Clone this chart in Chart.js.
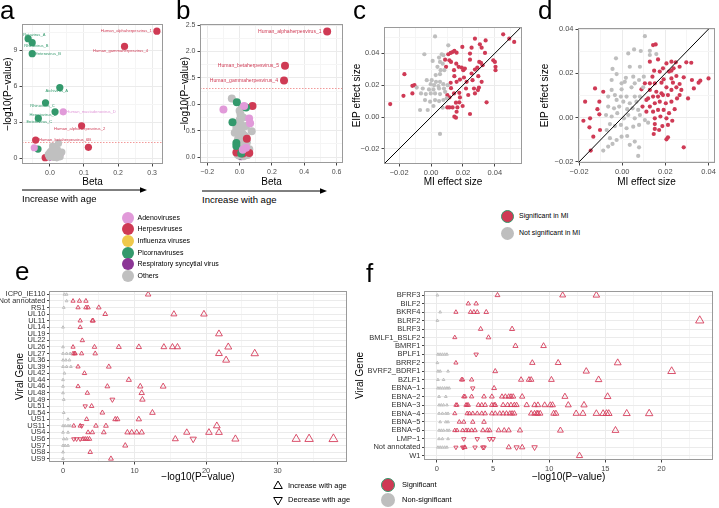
<!DOCTYPE html>
<html>
<head>
<meta charset="utf-8">
<title>Virus age association panels</title>
<script src="https://cdn.jsdelivr.net/npm/chart.js@4.4.1/dist/chart.umd.min.js"></script>
<style>
  body { margin: 0; background: #fff; font-family: "Liberation Sans", Arial, Helvetica, sans-serif; }
  #wrap { position: relative; width: 719px; height: 508px; overflow: hidden; }
  canvas { position: absolute; }
  svg { position: absolute; left: 0; top: 0; }
  .tag { position: absolute; font-size: 26px; line-height: 26px; color: #000; }
  .txt { position: absolute; white-space: nowrap; color: #000; }
  .dot { position: absolute; border-radius: 50%; box-sizing: border-box; }
</style>
</head>
<body>
<div id="wrap">
  <svg width="719" height="508">
    <line x1="22" y1="190" x2="143" y2="190" stroke="#000" stroke-width="1"/>
    <polygon points="147,190 140,187.3 140,192.7" fill="#000"/>
    <line x1="202" y1="191" x2="323" y2="191" stroke="#000" stroke-width="1"/>
    <polygon points="327,191 320,188.3 320,193.7" fill="#000"/>
    <polygon points="278,481 282.3,488.5 273.7,488.5" fill="none" stroke="#000" stroke-width="1"/>
    <polygon points="278,505 273.7,497.5 282.3,497.5" fill="none" stroke="#000" stroke-width="1"/>
  </svg>

  <canvas id="chartA" width="172" height="190" style="left:0;top:0"></canvas>
  <canvas id="chartB" width="175" height="190" style="left:177px;top:0"></canvas>
  <canvas id="chartC" width="181" height="190" style="left:349px;top:0"></canvas>
  <canvas id="chartD" width="182" height="190" style="left:537px;top:0"></canvas>
  <canvas id="chartE" width="355" height="201" style="left:0;top:285px"></canvas>
  <canvas id="chartF" width="369" height="200" style="left:350px;top:285px"></canvas>

  <div class="tag" style="left:0;top:-3px">a</div>
  <div class="tag" style="left:176px;top:-3px">b</div>
  <div class="tag" style="left:353px;top:-3px">c</div>
  <div class="tag" style="left:538px;top:-3px">d</div>
  <div class="tag" style="left:15px;top:258px">e</div>
  <div class="tag" style="left:366px;top:260px">f</div>

  <div class="txt" style="left:22px;top:193px;font-size:9.5px;line-height:12px">Increase with age</div>
  <div class="txt" style="left:202px;top:194px;font-size:9.5px;line-height:12px">Increase with age</div>
  <div class="txt" style="left:288px;top:481px;font-size:7.5px;line-height:10px">Increase with age</div>
  <div class="txt" style="left:288px;top:495px;font-size:7.5px;line-height:10px">Decrease with age</div>
  <div id="legends"></div>
</div>

<script>
const FONT = '"Liberation Sans", Arial, Helvetica, sans-serif';

// ---- panel a: Beta vs -log10(P), coloured by virus family ----
const aAdeno = [[-0.046, 0.86], [0.039, 3.86], [0.032, 0.40], [0.020, 0.15]];
const aHerpes = [[0.314, 10.6], [0.219, 9.33], [0.093, 2.69], [-0.042, 1.50], [0.113, 0.89], [-0.014, 0.03], [0.010, 0.10]];
const aFlu = [[0.015, 0.22]];
const aPicorna = [[-0.064, 9.97], [-0.052, 9.64], [-0.052, 8.72], [0.029, 5.89], [-0.013, 4.61], [0.015, 3.86], [-0.034, 3.31], [-0.035, 0.75], [0.005, 0.30]];
const aRsv = [[0.000, 0.08]];
const aOthers = [[-0.005, 0.30], [0.000, 0.50], [0.005, 0.20], [0.010, 0.80], [0.015, 0.60], [0.020, 0.40], [0.025, 1.22], [0.030, 0.10],
  [0.012, 0.05], [0.018, 0.92], [0.008, 1.00], [0.022, 0.70], [-0.002, 0.10], [0.028, 0.30], [0.015, 0.15], [0.005, 0.65], [0.035, 0.50], [0.020, 0.02]];
const aLabelNames = ['Human_alphaherpesvirus_1', 'Human_gammaherpesvirus_4', 'Rotavirus_A', 'Rhinovirus_B', 'Enterovirus_B', 'Aichivirus_A',
  'Rhinovirus_C', 'Hepatovirus_A', 'Human_mastadenovirus_D', 'Enterovirus_C', 'Human_alphaherpesvirus_2', 'Human_betaherpesvirus_6B'];
const aLabelPoints = [aHerpes[0], aHerpes[1], aPicorna[0], aPicorna[1], aPicorna[2], aPicorna[3], aPicorna[4], aPicorna[5], aAdeno[1], aPicorna[6], aHerpes[2], aHerpes[3]];
const aXTicks = [0.0, 0.1, 0.2, 0.3];
const aYTicks = [0, 3, 6, 9];

// ---- panel b ----
const bAdeno = [[-0.100, 0.90], [0.028, 0.97], [0.059, 0.73], [0.065, 0.64], [0.040, 0.18], [0.020, 0.14]];
const bHerpes = [[0.542, 2.38], [0.281, 1.73], [0.275, 1.45], [0.080, 0.97], [0.045, 0.35], [-0.020, 0.09], [0.020, 0.07], [0.060, 0.08]];
const bFlu = [[0.040, 0.37], [0.020, 0.12], [0.030, 0.33]];
const bPicorna = [[-0.017, 1.04], [0.040, 0.94], [-0.044, 0.66], [-0.020, 0.27], [-0.020, 0.21], [0.010, 0.07]];
const bRsv = [[0.010, 0.02]];
const bOthers = [[-0.048, 1.11], [-0.006, 0.67], [0.075, 0.49], [0.006, 0.81], [0.020, 0.58], [0.000, 0.50], [0.030, 0.41], [-0.010, 0.34],
  [0.010, 0.28], [0.035, 0.22], [0.000, 0.15], [0.016, 0.06], [-0.004, 0.03], [0.050, 0.04], [0.024, 0.12], [-0.030, 0.46], [0.040, 0.59],
  [0.014, 0.95], [0.005, 0.40], [0.012, 0.20], [-0.015, 0.10], [0.028, 0.30], [0.008, 0.62], [0.045, 0.28], [-0.020, 0.55], [0.018, 0.45],
  [0.002, 0.72], [0.025, 0.02], [0.060, 0.15], [-0.008, 0.22], [0.015, 0.35], [0.032, 0.10], [0.000, 0.88], [0.022, 0.75], [0.038, 0.38], [-0.012, 0.05]];
const bLabelNames = ['Human_alphaherpesvirus_1', 'Human_betaherpesvirus_5', 'Human_gammaherpesvirus_4'];
const bLabelPoints = [bHerpes[0], bHerpes[1], bHerpes[2]];
const bXTicks = [-0.2, 0.0, 0.2, 0.4, 0.6];
const bYTicks = [0.0, 0.5, 1.0, 1.5, 2.0, 2.5];
const pThreshold = 1.3;

// ---- panel c: MI vs EIP effect size ----
const cSig = [[-0.0256, 0.0081], [-0.0167, 0.0269], [-0.0173, 0.0133], [-0.0117, 0.0196], [-0.0104, 0.0200], [-0.0117, 0.0148],
  [0.0108, 0.0394], [0.0123, 0.0402], [0.0135, 0.0408], [0.0146, 0.0415], [0.0160, 0.0404], [0.0115, 0.0356], [0.0125, 0.0346],
  [0.0158, 0.0335], [0.0144, 0.0294], [0.0173, 0.0315], [0.0192, 0.0310], [0.0202, 0.0294], [0.0212, 0.0304], [0.0196, 0.0440],
  [0.0244, 0.0398], [0.0275, 0.0492], [0.0254, 0.0435], [0.0306, 0.0456], [0.0342, 0.0481], [0.0317, 0.0435], [0.0338, 0.0402],
  [0.0244, 0.0360], [0.0302, 0.0346], [0.0313, 0.0340], [0.0290, 0.0310], [0.0323, 0.0325], [0.0275, 0.0298], [0.0254, 0.0273],
  [0.0296, 0.0256], [0.0260, 0.0231], [0.0317, 0.0221], [0.0269, 0.0179], [0.0300, 0.0185], [0.0294, 0.0169], [0.0275, 0.0148],
  [0.0219, 0.0179], [0.0206, 0.0248], [0.0181, 0.0235], [0.0160, 0.0221], [0.0123, 0.0215], [0.0125, 0.0181], [0.0102, 0.0138],
  [0.0115, 0.0123], [0.0144, 0.0148], [0.0177, 0.0152], [0.0177, 0.0092], [0.0156, 0.0090], [0.0198, 0.0069], [0.0165, 0.0060],
  [0.0102, 0.0060], [0.0115, 0.0060], [0.0135, 0.0060], [0.0160, 0.0033], [0.0146, 0.0002], [0.0156, -0.0004], [0.0244, 0.0019],
  [0.0348, 0.0092], [0.0390, 0.0356], [0.0400, 0.0346], [0.0404, 0.0315], [0.0404, 0.0294], [0.0452, 0.0519], [0.0490, 0.0492],
  [0.0521, 0.0471], [0.0088, 0.0360], [0.0094, 0.0315], [0.0146, 0.0256], [0.0223, 0.0221], [0.0233, 0.0138], [0.0181, 0.0123]];
const cNs = [[0.0025, 0.0506], [0.0108, 0.0450], [-0.0042, 0.0394], [0.0067, 0.0394], [0.0077, 0.0388], [0.0050, 0.0373],
  [0.0010, 0.0352], [0.0056, 0.0346], [0.0073, 0.0335], [0.0040, 0.0315], [0.0060, 0.0294], [0.0083, 0.0294], [0.0029, 0.0263],
  [0.0056, 0.0269], [-0.0027, 0.0231], [0.0004, 0.0231], [0.0031, 0.0221], [0.0056, 0.0221], [-0.0002, 0.0206], [0.0019, 0.0200],
  [0.0046, 0.0194], [0.0077, 0.0206], [-0.0090, 0.0185], [-0.0052, 0.0179], [-0.0013, 0.0173], [0.0015, 0.0173], [0.0050, 0.0179],
  [0.0081, 0.0179], [-0.0063, 0.0148], [-0.0033, 0.0144], [-0.0002, 0.0148], [0.0025, 0.0148], [0.0056, 0.0144], [0.0088, 0.0158],
  [-0.0038, 0.0106], [-0.0006, 0.0096], [0.0025, 0.0106], [0.0050, 0.0100], [0.0077, 0.0106], [-0.0069, 0.0044], [-0.0021, 0.0044],
  [0.0015, 0.0069], [0.0073, 0.0058], [0.0056, -0.0106], [0.0098, 0.0117], [0.0104, 0.0200]];
const cdTicks = [-0.02, 0.00, 0.02, 0.04];

// ---- panel d ----
const dSig = [[-0.0180, -0.0014], [-0.0172, 0.0072], [-0.0126, 0.0132], [-0.0149, -0.0003], [-0.0152, -0.0044], [-0.0134, -0.0086],
  [-0.0146, -0.0149], [-0.0115, 0.0038], [-0.0106, 0.0015], [-0.0103, -0.0056], [-0.0088, 0.0117], [-0.0106, 0.0072],
  [0.0143, 0.0328], [0.0155, 0.0331], [0.0128, 0.0253], [0.0166, 0.0263], [0.0205, 0.0245], [0.0228, 0.0253], [0.0248, 0.0250],
  [0.0297, 0.0250], [0.0320, 0.0248], [0.0266, 0.0230], [0.0238, 0.0223], [0.0189, 0.0223], [0.0148, 0.0212], [0.0174, 0.0208],
  [0.0217, 0.0208], [0.0285, 0.0182], [0.0323, 0.0170], [0.0354, 0.0158], [0.0362, 0.0167], [0.0400, 0.0177], [0.0332, 0.0132],
  [0.0305, 0.0087], [0.0235, 0.0158], [0.0251, 0.0137], [0.0228, 0.0125], [0.0205, 0.0137], [0.0182, 0.0158], [0.0151, 0.0155],
  [0.0128, 0.0155], [0.0105, 0.0155], [0.0089, 0.0128], [0.0128, 0.0125], [0.0158, 0.0117], [0.0166, 0.0095], [0.0143, 0.0095],
  [0.0120, 0.0087], [0.0189, 0.0102], [0.0212, 0.0102], [0.0266, 0.0102], [0.0254, 0.0087], [0.0228, 0.0072], [0.0202, 0.0065],
  [0.0174, 0.0072], [0.0151, 0.0065], [0.0128, 0.0050], [0.0112, 0.0027], [0.0143, 0.0027], [0.0166, 0.0035], [0.0192, 0.0035],
  [0.0217, 0.0020], [0.0243, 0.0038], [0.0177, 0.0005], [0.0151, -0.0003], [0.0205, -0.0003], [0.0232, -0.0014], [0.0151, -0.0029],
  [0.0186, -0.0038], [0.0212, -0.0033], [0.0151, -0.0051], [0.0171, -0.0056], [0.0146, -0.0074], [0.0212, -0.0089], [0.0205, -0.0098],
  [0.0285, -0.0134], [0.0182, 0.0110], [0.0228, 0.0177], [0.0251, 0.0188], [0.0266, 0.0152], [0.0274, 0.0125], [0.0140, 0.0185],
  [0.0112, 0.0080], [0.0094, 0.0050], [0.0192, 0.0173], [0.0228, 0.0212]];
const dNs = [[0.0105, 0.0368], [0.0028, 0.0290], [0.0055, 0.0308], [0.0086, 0.0301], [0.0128, 0.0302], [0.0128, 0.0283],
  [0.0158, 0.0287], [-0.0029, 0.0268], [0.0035, 0.0230], [-0.0045, 0.0220], [0.0082, 0.0230], [-0.0026, 0.0197], [0.0017, 0.0180],
  [0.0051, 0.0185], [0.0078, 0.0170], [0.0012, 0.0162], [0.0058, 0.0155], [0.0100, 0.0185], [0.0097, 0.0137], [0.0043, 0.0137],
  [-0.0003, 0.0128], [-0.0049, 0.0125], [-0.0034, 0.0102], [-0.0006, 0.0095], [-0.0065, 0.0095], [0.0020, 0.0095], [0.0058, 0.0095],
  [0.0082, 0.0095], [-0.0026, 0.0080], [0.0005, 0.0072], [0.0035, 0.0065], [0.0066, 0.0072], [-0.0065, 0.0050], [-0.0038, 0.0042],
  [-0.0014, 0.0050], [0.0023, 0.0038], [0.0048, 0.0042], [0.0074, 0.0035], [-0.0075, 0.0012], [-0.0049, 0.0005], [-0.0023, 0.0020],
  [0.0008, -0.0003], [0.0028, 0.0012], [0.0058, -0.0003], [0.0082, 0.0012], [0.0105, -0.0011], [0.0120, -0.0023], [-0.0057, -0.0029],
  [-0.0034, -0.0038], [-0.0006, -0.0033], [-0.0072, -0.0056], [0.0020, -0.0048], [0.0051, -0.0041], [0.0078, -0.0033],
  [-0.0057, -0.0093], [-0.0026, -0.0101], [-0.0003, -0.0086], [-0.0065, -0.0131], [-0.0088, -0.0149], [-0.0045, -0.0119],
  [0.0035, -0.0123], [0.0058, -0.0108], [0.0078, -0.0134], [0.0074, -0.0173], [0.0023, -0.0083], [-0.0003, 0.0155], [-0.0049, 0.0170]];

// ---- panel e: HSV genes, -log10(P) per peptide ----
const eGenes = ['ICP0_IE110', 'Not annotated', 'RS1', 'UL10', 'UL11', 'UL14', 'UL19', 'UL22', 'UL26', 'UL27', 'UL36', 'UL39', 'UL42',
  'UL44', 'UL46', 'UL48', 'UL49', 'UL51', 'UL54', 'US1', 'US11', 'US4', 'US6', 'US7', 'US8', 'US9'];
const eUp = [[11.9], [1.4, 2.3, 3.2], [2.1, 3.2, 3.5, 5.0], [5.9, 15.5, 19.7], [2.4, 4.1, 4.2], [2.4], [21.8], [2.7],
  [1.4, 4.4, 7.8, 10.6, 14.1, 15.3, 16.0, 23.1], [1.4, 1.6, 1.7, 2.6, 4.5, 21.8, 26.8], [22.8], [2.1, 6.4], [3.0], [9.2],
  [2.1, 6.2, 10.8, 14.0], [3.4, 11.0], [11.1], [4.0], [5.5, 12.5], [3.3, 7.3, 7.6, 10.6], [1.5, 2.4, 4.6, 6.0, 21.5],
  [3.5, 4.1, 5.7, 9.0, 9.6, 10.3, 11.0, 17.3, 20.4, 21.8], [2.8, 3.1, 3.4, 3.7, 15.7, 24.1, 32.6, 34.4, 37.8], [8.7], [3.8], [6.7]];
const eDown = [[], [], [], [], [], [], [], [], [], [], [], [], [], [], [], [], [6.9], [3.1], [], [], [2.6], [], [1.5, 1.9, 2.4, 18.2], [], [], []];
const eNs = [[0.2, 0.5], [0.5], [0.1], [], [], [0], [], [], [0], [0, 0.5, 1.0], [0, 0.4, 0.9], [0, 0.5, 1.1], [0.2], [0], [0], [0],
  [0.1], [], [0.1], [0.7], [0, 0.3, 0.7, 1.0], [0, 0.7], [0.1, 0.5], [0, 0.3, 0.7], [0], [0]];
const eXTicks = [0, 10, 20, 30];

// ---- panel f: EBV genes ----
const fGenes = ['BFRF3', 'BILF2', 'BKRF4', 'BLRF2', 'BLRF3', 'BMLF1_BSLF2', 'BMRF1', 'BPLF1', 'BRRF2', 'BVRF2_BDRF1', 'BZLF1',
  'EBNA\u22121', 'EBNA\u22122', 'EBNA\u22123', 'EBNA\u22124', 'EBNA\u22125', 'EBNA\u22126', 'LMP\u22121', 'Not annotated', 'W1'];
const fUp = [[5.4, 11.2, 14.2], [2.8, 3.5], [1.7, 3.0, 3.3, 3.6, 4.4], [23.4], [3.9, 6.7], [1.6, 4.6], [7.0, 9.5], [],
  [1.7, 8.5, 10.8, 16.1], [5.2, 13.3, 20.9], [2.2, 2.3, 3.1, 7.5, 8.2, 8.4, 10.2, 14.4], [5.1],
  [2.4, 2.5, 3.1, 4.2, 4.9, 5.8, 6.1, 6.4, 6.6, 6.8, 7.6, 11.4, 15.2],
  [1.7, 1.8, 2.6, 2.7, 2.8, 3.7, 4.0, 4.3, 4.9, 5.1, 5.2, 5.9, 6.3, 6.6, 6.9, 7.1, 8.0, 8.7, 9.0, 9.6, 10.1, 10.3, 11.7, 13.1],
  [1.6, 2.7, 2.9, 3.2, 3.6, 4.0, 4.3, 4.9, 5.2, 5.6, 5.9, 6.2, 6.5, 6.7, 6.9, 8.4, 8.7, 8.9, 9.0, 9.2, 10.4, 10.6, 12.4, 13.0, 14.2, 14.8, 15.1, 15.3, 16.9, 18.9],
  [2.0, 2.4, 3.2, 4.2], [1.6, 1.8, 2.3, 2.6, 2.8, 3.1, 3.4, 4.1, 4.5, 4.7, 5.5, 6.0, 6.4, 7.4, 11.0, 15.9], [], [2.5, 6.4, 7.6], [12.7]];
const fDown = [[], [], [], [], [], [], [], [3.5], [], [], [], [3.2], [], [], [], [], [], [2.4, 3.6, 4.7, 5.0],
  [1.7, 2.3, 2.4, 3.4, 4.1, 4.2, 7.1, 8.7], []];
const fNs = [[0.05], [], [0.3], [0.05], [], [], [], [0.1, 0.3, 0.5, 0.7, 0.9], [0.05], [0.1, 0.3, 1.0], [0.1, 0.6],
  [0.1, 0.3, 0.5, 0.7, 0.9, 1.1], [0.2, 0.8], [0.2, 0.4, 0.6, 0.9], [0.2, 0.5, 0.8, 1.0], [0.3, 0.8, 1.0],
  [0.2, 0.4, 0.6, 0.9, 1.1], [0.2, 0.5, 1.0], [0.1, 0.3, 0.5, 0.7, 0.9], []];
const fXTicks = [0, 5, 10, 15, 20];

const families = ['Adenoviruses', 'Herpesviruses', 'Influenza viruses', 'Picornaviruses', 'Respiratory syncytial virus', 'Others'];

// ---- styles ----
const COL = { adeno: '#e19ad9', herpes: '#cf3a54', flu: '#efc94c', picorna: '#33996c', rsv: '#8c3696', others: '#c0c0c0' };
const familyColors = [COL.adeno, COL.herpes, COL.flu, COL.picorna, COL.rsv, COL.others];
const SIG_RED = '#cf3a55';
const NS_GRAY = '#bebebe';
const TRI_RED = 'rgba(214,62,92,0.9)';
const aLabelColors = [COL.herpes, COL.herpes, COL.picorna, COL.picorna, COL.picorna, COL.picorna, COL.picorna, COL.picorna, COL.adeno, COL.picorna, COL.herpes, COL.herpes];
const aLabelOffsets = [[-5, 0, 'right'], [-4, 4, 'center'], [-5, -4, 'left'], [-8, 3, 'left'], [3, 0.5, 'left'], [-3, 3, 'center'],
  [-3, 3.5, 'center'], [-12, 3.5, 'center'], [3, 0, 'left'], [1, 3.5, 'center'], [-2, 3, 'center'], [3.5, 0, 'left']];
const bLabelOffsets = [[-5.5, 0, 'right'], [-6, 0, 'right'], [-6, 0, 'right']];

const minus = s => s.replace('-', '\u2212');

function pairs(list) { return list.map(p => ({ x: p[0], y: p[1] })); }
function rows(lists) {
  const out = [];
  lists.forEach((vals, i) => vals.forEach(v => out.push({ x: v, y: i })));
  return out;
}
function mids(majors, min, max) {
  const step = majors[1] - majors[0];
  const out = [];
  for (let v = majors[0] - step * 4.5; v <= max + 1e-12; v += step) {
    if (v >= min - 1e-12) out.push(+v.toFixed(6));
  }
  return out;
}

function scale(o) {
  const minors = o.minor ? mids(o.majors, o.min, o.max) : [];
  const all = o.majors.filter(v => v >= o.min && v <= o.max).concat(minors).sort((p, q) => p - q);
  const isMajor = v => o.majors.some(m => Math.abs(m - v) < 1e-9);
  return {
    type: 'linear', min: o.min, max: o.max, reverse: !!o.reverse,
    afterBuildTicks: s => { s.ticks = all.map(v => ({ value: v })); },
    afterFit: s => { if (o.horizontal) s.height = o.size; else s.width = o.size; },
    grid: {
      color: c => (c.tick && isMajor(c.tick.value)) ? '#ebebeb' : '#f5f5f5',
      lineWidth: 1,
      tickLength: o.tickLen ?? 2.5,
      tickColor: c => (c.tick && isMajor(c.tick.value)) ? '#444' : 'rgba(0,0,0,0)'
    },
    border: { display: false },
    ticks: {
      autoSkip: false, maxRotation: 0, minRotation: 0, padding: o.pad ?? 2,
      color: o.tickColor || '#4d4d4d',
      font: { family: FONT, size: o.tickSize || 7 },
      callback: v => isMajor(v) ? o.fmt(v) : ''
    },
    title: {
      display: true, text: o.title, color: '#000',
      font: { family: FONT, size: 10 },
      padding: { top: o.titleTop ?? 2, bottom: o.titleBottom ?? 2 }
    }
  };
}

const framePlugin = {
  id: 'frame',
  afterDraw(chart) {
    const { ctx, chartArea: a } = chart;
    ctx.save();
    ctx.strokeStyle = '#9a9a9a';
    ctx.lineWidth = 1;
    ctx.strokeRect(Math.round(a.left) + 0.5, Math.round(a.top) + 0.5, Math.round(a.right - a.left) - 1, Math.round(a.bottom - a.top) - 1);
    ctx.restore();
  }
};

function thresholdPlugin(value) {
  return {
    id: 'threshold',
    beforeDatasetsDraw(chart) {
      const { ctx, chartArea: a, scales: { y } } = chart;
      const py = Math.round(y.getPixelForValue(value)) + 0.5;
      ctx.save();
      ctx.strokeStyle = '#f29a9a';
      ctx.lineWidth = 1;
      ctx.setLineDash([1.5, 1.5]);
      ctx.beginPath(); ctx.moveTo(a.left, py); ctx.lineTo(a.right, py); ctx.stroke();
      ctx.restore();
    }
  };
}

const diagonalPlugin = {
  id: 'diagonal',
  afterDatasetsDraw(chart) {
    const { ctx, chartArea: a, scales: { x, y } } = chart;
    const lo = Math.min(x.min, y.min), hi = Math.max(x.max, y.max);
    ctx.save();
    ctx.beginPath(); ctx.rect(a.left, a.top, a.right - a.left, a.bottom - a.top); ctx.clip();
    ctx.strokeStyle = '#000';
    ctx.lineWidth = 1;
    ctx.beginPath();
    ctx.moveTo(x.getPixelForValue(lo), y.getPixelForValue(lo));
    ctx.lineTo(x.getPixelForValue(hi), y.getPixelForValue(hi));
    ctx.stroke();
    ctx.restore();
  }
};

function labelPlugin(names, points, colors, offsets, size) {
  return {
    id: 'pointLabels',
    afterDatasetsDraw(chart) {
      const { ctx, scales: { x, y } } = chart;
      ctx.save();
      ctx.font = size + 'px ' + FONT;
      ctx.textBaseline = 'middle';
      names.forEach((name, i) => {
        ctx.fillStyle = colors[i];
        ctx.textAlign = offsets[i][2];
        ctx.fillText(name, x.getPixelForValue(points[i][0]) + offsets[i][0], y.getPixelForValue(points[i][1]) + offsets[i][1]);
      });
      ctx.restore();
    }
  };
}

function dots(list, color, r) {
  return { data: pairs(list), pointRadius: r, pointBackgroundColor: color, pointBorderColor: color, pointBorderWidth: 0 };
}
function tris(data, color, radius, rotation, width) {
  return { data, pointStyle: 'triangle', pointRotation: rotation, pointRadius: radius,
    pointBackgroundColor: 'rgba(0,0,0,0)', pointBorderColor: color, pointBorderWidth: width };
}

function scatter(id, datasets, xs, ys, pad, extra) {
  return new Chart(document.getElementById(id), {
    type: 'scatter',
    data: { datasets },
    options: {
      responsive: false, animation: false, events: [],
      layout: { padding: pad },
      plugins: { legend: { display: false }, tooltip: { enabled: false } },
      scales: { x: scale(Object.assign({ horizontal: true }, xs)), y: scale(ys) }
    },
    plugins: [framePlugin].concat(extra || [])
  });
}

// panel a
scatter('chartA', [
  dots(aOthers, COL.others, 3.6), dots(aRsv, COL.rsv, 3.6), dots(aFlu, COL.flu, 3.6),
  dots(aAdeno, COL.adeno, 3.6), dots(aPicorna, COL.picorna, 3.6), dots(aHerpes, COL.herpes, 3.6)
], { min: -0.082, max: 0.332, majors: aXTicks, minor: true, fmt: v => v.toFixed(1), title: 'Beta', size: 26 },
   { min: -0.5, max: 11.2, majors: aYTicks, minor: true, fmt: v => String(v), title: '\u2212log10(P\u2212value)', size: 22 },
   { left: 0, top: 24, right: 9, bottom: 0 },
   [thresholdPlugin(pThreshold), labelPlugin(aLabelNames, aLabelPoints, aLabelColors, aLabelOffsets, 4.1)]);

// panel b
scatter('chartB', [
  dots(bAdeno, COL.adeno, 4), dots(bPicorna, COL.picorna, 4), dots(bHerpes, COL.herpes, 4),
  dots(bOthers, COL.others, 4), dots(bFlu, COL.flu, 4), dots(bRsv, COL.rsv, 4)
], { min: -0.245, max: 0.64, majors: bXTicks, minor: true, fmt: v => minus(v.toFixed(1)), title: 'Beta', size: 27 },
   { min: -0.11, max: 2.52, majors: bYTicks, minor: true, fmt: v => v.toFixed(1), title: '\u2212log10(P\u2212value)', size: 23 },
   { left: 0, top: 24, right: 9, bottom: 0 },
   [thresholdPlugin(pThreshold), labelPlugin(bLabelNames, bLabelPoints, [COL.herpes, COL.herpes, COL.herpes], bLabelOffsets, 5.1)]);

// panel c
scatter('chartC', [dots(cNs, NS_GRAY, 2.1), dots(cSig, SIG_RED, 2.1)],
  { min: -0.0295, max: 0.057, majors: cdTicks, minor: true, fmt: v => minus(v.toFixed(2)), title: 'MI effect size', size: 26, tickSize: 7.5 },
  { min: -0.0295, max: 0.0565, majors: cdTicks, minor: true, fmt: v => minus(v.toFixed(2)), title: 'EIP effect size', size: 35, tickSize: 7.5 },
  { left: 0, top: 27, right: 8, bottom: 0 }, [diagonalPlugin]);

// panel d
scatter('chartD', [dots(dNs, NS_GRAY, 2.1), dots(dSig, SIG_RED, 2.1)],
  { min: -0.0205, max: 0.043, majors: cdTicks, minor: true, fmt: v => minus(v.toFixed(2)), title: 'MI effect size', size: 27, tickSize: 7.5 },
  { min: -0.0205, max: 0.0405, majors: cdTicks, minor: true, fmt: v => minus(v.toFixed(2)), title: 'EIP effect size', size: 41, tickSize: 7.5 },
  { left: 0, top: 28, right: 4, bottom: 0 }, [diagonalPlugin]);

// panel e
const eRad = c => 2.3 + 0.075 * c.raw.x;
scatter('chartE', [
  tris(rows(eNs), NS_GRAY, 1.6, 0, 1),
  tris(rows(eUp), TRI_RED, eRad, 0, 1),
  tris(rows(eDown), TRI_RED, eRad, 180, 1)
], { min: -1.96, max: 39.7, majors: eXTicks, minor: true, fmt: v => String(v), title: '\u2212log10(P\u2212value)', size: 24, tickSize: 7.5, titleBottom: 2.5 },
   { min: -0.5, max: eGenes.length - 0.5, reverse: true, majors: eGenes.map((g, i) => i), fmt: v => eGenes[v], title: 'Viral Gene',
     size: 49, tickSize: 7.5, tickColor: '#333', tickLen: 2, pad: 1.5, titleTop: 14 },
   { left: 0, top: 4, right: 8, bottom: 0 });

// panel f
const fRad = c => 2.2 + 0.11 * c.raw.x;
scatter('chartF', [
  tris(rows(fNs), NS_GRAY, 1.6, 0, 1),
  tris(rows(fUp), TRI_RED, fRad, 0, 1),
  tris(rows(fDown), TRI_RED, fRad, 180, 1)
], { min: -1.14, max: 24.6, majors: fXTicks, minor: true, fmt: v => String(v), title: '\u2212log10(P\u2212value)', size: 25, tickSize: 7.5 },
   { min: -0.5, max: fGenes.length - 0.5, reverse: true, majors: fGenes.map((g, i) => i), fmt: v => fGenes[v], title: 'Viral Gene',
     size: 74, tickSize: 7.5, tickColor: '#333', tickLen: 2, pad: 1.5, titleTop: 4 },
   { left: 0, top: 4, right: 2, bottom: 0 });

// HTML legends
const legendBox = document.getElementById('legends');
function addDot(cx, cy, r, fill, border) {
  const d = document.createElement('div');
  d.className = 'dot';
  d.style.cssText = `left:${cx - r}px;top:${cy - r}px;width:${2 * r}px;height:${2 * r}px;background:${fill};` +
    (border ? `border:1.5px solid ${border};` : '');
  legendBox.appendChild(d);
}
function addText(x, cy, text, size) {
  const t = document.createElement('div');
  t.className = 'txt';
  t.style.cssText = `left:${x}px;top:${cy - 5}px;font-size:${size}px;line-height:10px`;
  t.textContent = text;
  legendBox.appendChild(t);
}
families.forEach((name, i) => {
  const cy = 217.7 + i * 11.65;
  addDot(128, cy, 6, familyColors[i]);
  addText(137.5, cy, name, 7);
});
addDot(507, 216, 6.5, SIG_RED, '#33996c');
addText(519, 216, 'Significant in MI', 7);
addDot(507, 233, 6.5, NS_GRAY);
addText(519, 233, 'Not significant in MI', 7);
addDot(388, 485, 7, SIG_RED, '#33996c');
addText(402, 485, 'Significant', 7.5);
addDot(388, 500, 7, NS_GRAY);
addText(402, 500, 'Non-significant', 7.5);
</script>
</body>
</html>
